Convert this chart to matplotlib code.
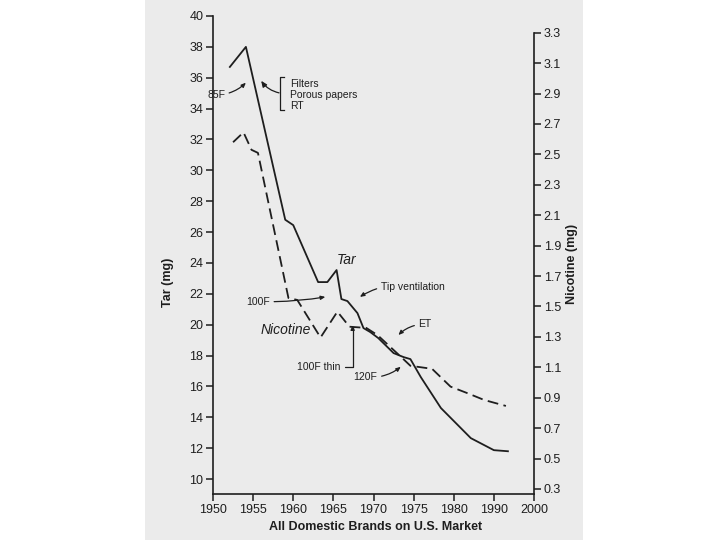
import matplotlib
matplotlib.use("Agg")
import matplotlib.pyplot as plt
from matplotlib.patches import Rectangle
import numpy as np

plt.rcParams['font.family'] = ['Liberation Sans', 'DejaVu Sans']

# tar (mg), solid line
tar_years = [1952.1, 1954.1, 1959.0, 1960.0, 1963.1, 1964.25, 1965.4, 1966.0, 1966.75,
             1968.0, 1968.75, 1969.6, 1970.6, 1972.5, 1973.75, 1974.6, 1975.9, 1978.4,
             1984.25, 1990.0, 1993.5]
tar_mg = [36.7, 38.0, 26.8, 26.45, 22.76, 22.76, 23.54, 21.66, 21.53,
          20.75, 19.78, 19.52, 19.13, 18.16, 17.9, 17.77, 16.6, 14.6,
          12.65, 11.87, 11.8]

# nicotine (mg), dashed line
nic_years = [1952.5, 1953.8, 1954.8, 1955.6, 1959.4, 1960.5, 1963.4, 1965.5, 1967.0,
             1969.1, 1970.5, 1973.4, 1974.6, 1977.3, 1979.6, 1983.5, 1987.6, 1993.0]
nic_mg = [2.58, 2.645, 2.53, 2.51, 1.556, 1.543, 1.296, 1.466, 1.367,
          1.359, 1.312, 1.17, 1.11, 1.09, 0.973, 0.929, 0.885, 0.846]

x_ticks = [1950, 1955, 1960, 1965, 1970, 1975, 1980, 1990, 2000]
tar_ticks = list(range(10, 41, 2))
nic_ticks = [0.3, 0.5, 0.7, 0.9, 1.1, 1.3, 1.5, 1.7, 1.9, 2.1, 2.3, 2.5, 2.7, 2.9, 3.1, 3.3]


# after 1980 the axis runs at half speed (1980, 1990, 2000 equally spaced)
def fwd(x):
    x = np.asarray(x, dtype=float)
    return np.where(x <= 1980, x, 1980 + (x - 1980) / 2)


def inv(x):
    x = np.asarray(x, dtype=float)
    return np.where(x <= 1980, x, 1980 + (x - 1980) * 2)


ink = '#1e1e1e'
fig = plt.figure(figsize=(7.2, 5.4), dpi=100)
fig.patches.append(Rectangle((145 / 720, 0), (583 - 145) / 720, 1, transform=fig.transFigure,
                             facecolor='#ebebeb', edgecolor='none', zorder=-10))

ax = fig.add_axes([213 / 720, 1 - 494 / 540, (534 - 213) / 720, (494 - 16) / 540])
ax.set_facecolor('none')
ax.set_xscale('function', functions=(fwd, inv))
ax.set_xlim(1950, 2000)
ax.set_ylim(9.03, 40)
ax.set_xticks(x_ticks)
ax.set_xticklabels([str(t) for t in x_ticks])
ax.set_yticks(tar_ticks)
ax.xaxis.set_minor_locator(matplotlib.ticker.NullLocator())

ax2 = ax.twinx()
ax2.set_ylim(0.267, 3.41)
ax2.set_yticks(nic_ticks)
ax2.set_yticklabels(['%.1f' % t for t in nic_ticks])

for a in (ax, ax2):
    a.spines['top'].set_visible(False)
    for s in a.spines.values():
        s.set_linewidth(1.2)
        s.set_color(ink)
    a.tick_params(direction='out', length=5, width=1.1, colors=ink, labelsize=9, pad=2)
ax.spines['right'].set_visible(False)
ax2.spines['left'].set_visible(False)
ax2.spines['bottom'].set_visible(False)
ax2.spines['right'].set_bounds(0.267, 3.3)

ax.plot(tar_years, tar_mg, color=ink, lw=1.3)
ax2.plot(nic_years, nic_mg, color=ink, lw=1.3, dashes=(6, 3))

# annotations
arrow = dict(arrowstyle='-|>,head_length=0.35,head_width=0.15', color=ink, lw=0.9,
             shrinkA=1, shrinkB=0)
fs = 7.5
ax.text(1959.6, 34.9, 'Filters\nPorous papers\nRT', fontsize=fs, color=ink, va='center',
        ha='left', linespacing=1.15)
ax.plot([1958.9, 1958.4, 1958.4, 1958.9], [36.07, 36.07, 33.9, 33.9], color=ink, lw=0.9)
ax.annotate('', xy=(1956.0, 35.8), xytext=(1958.4, 35.0),
            arrowprops=dict(arrow, connectionstyle='arc3,rad=-0.2'))
ax.annotate('85F', xy=(1954.1, 35.68), xytext=(1951.5, 34.88), fontsize=fs, color=ink,
            ha='right', va='center',
            arrowprops=dict(arrow, connectionstyle='arc3,rad=0.2'))
ax.text(1966.6, 24.2, 'Tar', fontsize=10, style='italic', color=ink, ha='center', va='center')
ax.annotate('Tip ventilation', xy=(1968.3, 21.8), xytext=(1970.9, 22.46), fontsize=fs,
            color=ink, ha='left', va='center',
            arrowprops=dict(arrow, connectionstyle='arc3,rad=0.2'))
ax.annotate('100F', xy=(1964.0, 21.8), xytext=(1957.1, 21.5), fontsize=fs, color=ink,
            ha='right', va='center',
            arrowprops=dict(arrow, connectionstyle='arc3,rad=0.05'))
ax.text(1955.9, 19.65, 'Nicotine', fontsize=10, style='italic', color=ink, ha='left',
        va='center')
ax.annotate('ET', xy=(1973.1, 19.33), xytext=(1975.6, 20.04), fontsize=fs, color=ink,
            ha='left', va='center',
            arrowprops=dict(arrow, connectionstyle='arc3,rad=0.2'))
ax.annotate('100F thin', xy=(1967.4, 19.97), xytext=(1965.9, 17.27), fontsize=fs, color=ink,
            ha='right', va='center',
            arrowprops=dict(arrow, connectionstyle='angle,angleA=0,angleB=90,rad=0'))
ax.annotate('120F', xy=(1973.4, 17.27), xytext=(1970.5, 16.6), fontsize=fs, color=ink,
            ha='right', va='center',
            arrowprops=dict(arrow, connectionstyle='arc3,rad=0.2'))

fig.text(168 / 720, 1 - 282 / 540, 'Tar (mg)', rotation=90, fontsize=9, fontweight='bold',
         color=ink, ha='center', va='center')
fig.text(572 / 720, 1 - 264 / 540, 'Nicotine (mg)', rotation=90, fontsize=9,
         fontweight='bold', color=ink, ha='center', va='center')
fig.text(376 / 720, 1 - 527 / 540, 'All Domestic Brands on U.S. Market', fontsize=9,
         fontweight='bold', color=ink, ha='center', va='center')

fig.savefig('out.png', dpi=100)
